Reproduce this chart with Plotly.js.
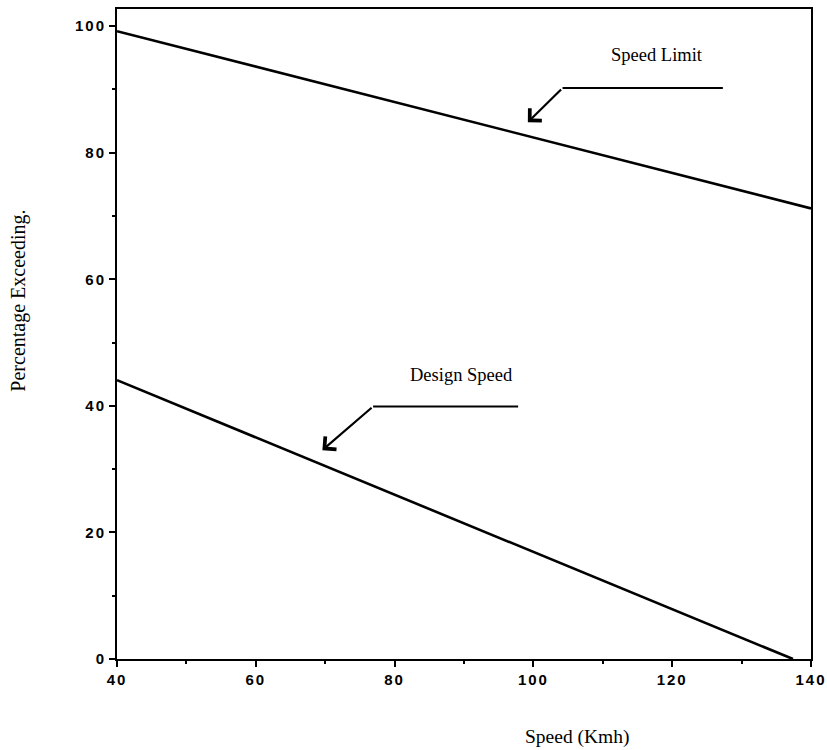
<!DOCTYPE html>
<html>
<head>
<meta charset="utf-8">
<script src="https://cdn.plot.ly/plotly-3.0.1.min.js"></script>
<style>
html,body{margin:0;padding:0;background:#fff;}
.xtick text, .ytick text {letter-spacing: 2px;}
</style>
</head>
<body>
<div id="chart" style="width:827px;height:750px;"></div>
<script>
// Data
const speedX = [40, 140];
const speedLimitY = [99.2, 71.2];
const designX = [40, 137.4];
const designY = [44.05, 0];
const xTicks = [40, 60, 80, 100, 120, 140];
const yTicks = [0, 20, 40, 60, 80, 100];
const seriesNames = ["Speed Limit", "Design Speed"];

const traces = [
  {x: speedX, y: speedLimitY, mode: 'lines', name: seriesNames[0],
   line: {color: '#000', width: 2.6}, hoverinfo: 'skip'},
  {x: designX, y: designY, mode: 'lines', name: seriesNames[1],
   line: {color: '#000', width: 2.6}, hoverinfo: 'skip'}
];

const tickFont = {family: 'Liberation Sans, Arial, sans-serif', size: 15, color: '#000', weight: 'bold'};
const serif = {family: 'Liberation Serif, Times New Roman, serif', size: 18.5, color: '#000'};

const layout = {
  width: 827, height: 750,
  margin: {l: 116.7, r: 16, t: 8.5, b: 91},
  paper_bgcolor: '#fff', plot_bgcolor: '#fff',
  showlegend: false,
  xaxis: {
    range: [40, 140], tickvals: xTicks, ticktext: xTicks.map(String),
    ticks: 'outside', ticklen: 6, tickwidth: 2, tickcolor: '#000',
    minor: {dtick: 10, tick0: 40, ticks: 'outside', ticklen: 3, tickwidth: 2, tickcolor: '#000'},
    showgrid: false, zeroline: false,
    showline: true, linecolor: '#000', linewidth: 2, mirror: true,
    tickfont: tickFont
  },
  yaxis: {
    range: [0, 102.7], tickvals: yTicks, ticktext: yTicks.map(String),
    ticks: 'outside', ticklen: 6, tickwidth: 2, tickcolor: '#000',
    minor: {dtick: 10, tick0: 0, ticks: 'outside', ticklen: 3, tickwidth: 2, tickcolor: '#000'},
    showgrid: false, zeroline: false,
    showline: true, linecolor: '#000', linewidth: 2, mirror: true,
    tickfont: tickFont
  },
  shapes: [
    {type: 'line', xref: 'x', yref: 'y', x0: 104.2, x1: 127.3, y0: 90.2, y1: 90.2,
     line: {color: '#000', width: 2}},
    {type: 'line', xref: 'x', yref: 'y', x0: 76.9, x1: 97.8, y0: 39.9, y1: 39.9,
     line: {color: '#000', width: 2}}
  ],
  annotations: [
    {x: 117.8, y: 95.4, xref: 'x', yref: 'y', text: seriesNames[0], showarrow: false, font: serif},
    {x: 89.7, y: 44.8, xref: 'x', yref: 'y', text: seriesNames[1], showarrow: false, font: serif},
    {x: 99.2, y: 84.8, xref: 'x', yref: 'y', axref: 'x', ayref: 'y', ax: 104.2, ay: 90.2,
     text: '', showarrow: true, arrowhead: 4, arrowsize: 1.5, arrowwidth: 2.2, arrowcolor: '#000'},
    {x: 69.6, y: 33.0, xref: 'x', yref: 'y', axref: 'x', ayref: 'y', ax: 76.9, ay: 39.9,
     text: '', showarrow: true, arrowhead: 4, arrowsize: 1.5, arrowwidth: 2.2, arrowcolor: '#000'},
    {x: 0.664, y: -0.12, xref: 'paper', yref: 'paper', text: 'Speed (Kmh)', showarrow: false,
     font: Object.assign({}, serif, {size: 19.5}), xanchor: 'center', yanchor: 'middle'},
    {x: -0.142, y: 0.552, xref: 'paper', yref: 'paper', text: 'Percentage Exceeding.', showarrow: false,
     font: Object.assign({}, serif, {size: 20}), textangle: -90, xanchor: 'center', yanchor: 'middle'}
  ]
};

Plotly.newPlot('chart', traces, layout, {displayModeBar: false, staticPlot: true});
</script>
</body>
</html>
